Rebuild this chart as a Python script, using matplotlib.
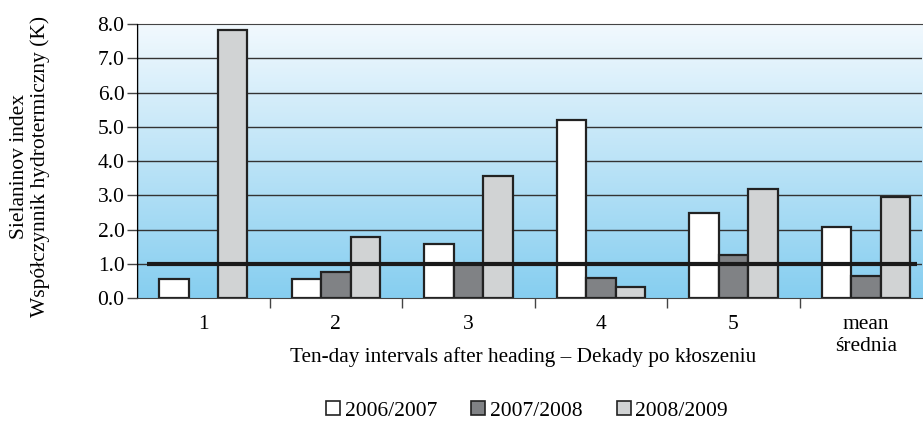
import matplotlib
matplotlib.use('Agg')
import matplotlib.pyplot as plt
import numpy as np
from matplotlib.patches import Patch

plt.rcParams['font.family'] = ['Liberation Serif', 'DejaVu Serif']

groups = ['1', '2', '3', '4', '5', 'mean\nśrednia']
seasons = ['2006/2007', '2007/2008', '2008/2009']
v0607 = [0.55, 0.55, 1.57, 5.2, 2.48, 2.07]
v0708 = [0.0, 0.76, 1.0, 0.58, 1.26, 0.64]
v0809 = [7.82, 1.78, 3.56, 0.32, 3.18, 2.95]
threshold = 1.0

colors = ['white', '#808285', '#d1d3d4']

fig = plt.figure(figsize=(9.23, 4.21), dpi=100)
ax = fig.add_axes([0.1484, 0.292, 0.851, 0.651])

x = np.arange(len(groups))
w = 0.222

# gradient background, light at top, blue at bottom
grad = np.linspace(1, 0, 256).reshape(-1, 1)
cmap = matplotlib.colors.LinearSegmentedColormap.from_list('bg', ['#f2f9fe', '#86cef0'])
ax.imshow(grad, aspect='auto', cmap=cmap, extent=[-0.5, 5.425, 0, 8],
          origin='lower', zorder=0)

for yv in range(1, 8):
    ax.axhline(yv, color='#333333', lw=1.0, zorder=1)

for i, vals in enumerate([v0607, v0708, v0809]):
    for xi, v in zip(x, vals):
        if v > 0:
            ax.bar(xi + (i - 1) * w, v, w, color=colors[i], edgecolor='#222222',
                   linewidth=1.6, zorder=2)

ax.plot([-0.425, 5.387], [threshold, threshold], color='#1a1a1a', lw=3, zorder=3,
        solid_capstyle='butt')

ax.set_xlim(-0.5, 5.425)
ax.set_ylim(0, 8)
ax.set_yticks(np.arange(0, 8.1, 1))
ax.set_yticklabels([f'{v:.1f}' for v in np.arange(0, 8.1, 1)], fontsize=15.5)
ax.set_xticks(np.arange(0.5, 5, 1))
ax.set_xticks(x, minor=True)
ax.set_xticklabels([])
ax.set_xticklabels(groups, minor=True, fontsize=15.5, linespacing=1.25)
ax.tick_params(axis='x', which='major', length=7, width=1, color='#444444', direction='out')
ax.tick_params(axis='x', which='minor', length=0, pad=12)
ax.tick_params(axis='y', length=7, width=1, color='#444444', pad=2)
ax.axvline(-0.5, color='black', lw=1, zorder=4)

ax.spines['right'].set_visible(False)
ax.spines['top'].set_color('#444444')
ax.spines['bottom'].set_color('#444444')
ax.spines['left'].set_color('black')

ax.set_ylabel('Sielaninov index\nWspółczynnik hydrotermiczny (K)', fontsize=15.5,
              linespacing=1.1, va='center')
ax.yaxis.set_label_coords(-0.136, 0.48)
ax.set_xlabel('Ten-day intervals after heading – Dekady po kłoszeniu', fontsize=15.3)
ax.xaxis.set_label_coords(0.492, -0.215)
ax.xaxis.label.set_va('center')

handles = [Patch(facecolor=c, edgecolor='#222222', linewidth=1.2) for c in colors]
fig.legend(handles, seasons, loc='center', bbox_to_anchor=(0.571, 0.024), ncol=3,
           frameon=False, fontsize=15.5, handlelength=0.65, handleheight=0.65,
           handletextpad=0.2, columnspacing=1.6)

fig.savefig('out.png', dpi=100)
